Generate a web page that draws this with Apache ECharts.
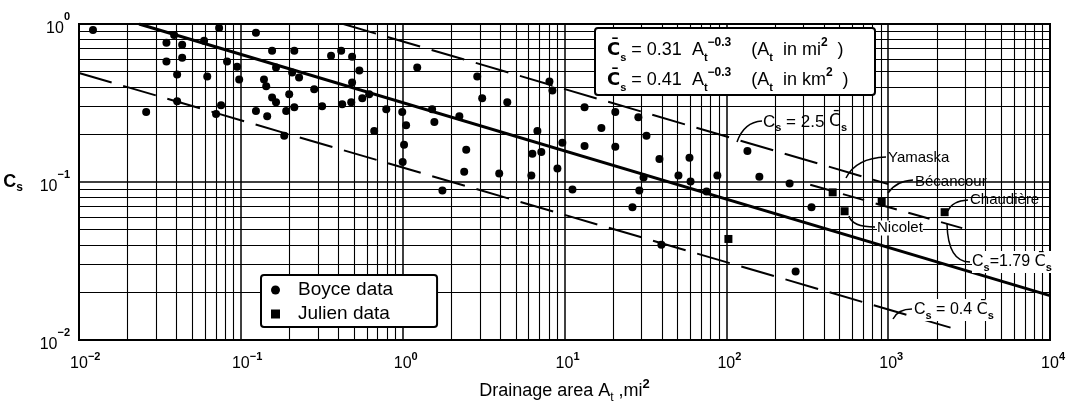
<!DOCTYPE html>
<html><head><meta charset="utf-8">
<script src="https://cdn.jsdelivr.net/npm/echarts@6/dist/echarts.min.js"></script>
<style>html,body{margin:0;padding:0;background:#fff}#c{width:1073px;height:409px}</style>
</head><body><div id="c"></div>
<script>
// ---- data ----
const xTickValues = [0.01, 0.1, 1, 10, 100, 1000, 10000];
const yTickValues = [0.01, 0.1, 1];
const boyce = [
  [0.0122,0.917],[0.0387,0.853],[0.0734,0.944],[0.0593,0.782],[0.124,0.879],[0.0347,0.76],
  [0.0434,0.738],[0.156,0.677],[0.214,0.677],[0.361,0.63],[0.417,0.677],[0.0347,0.578],
  [0.0434,0.612],[0.0822,0.578],[0.0948,0.537],[0.0404,0.479],[0.062,0.465],[0.0977,0.446],
  [0.165,0.53],[0.2075,0.493],[0.229,0.459],[0.139,0.446],[0.1435,0.403],[0.199,0.359],
  [0.284,0.386],[0.487,0.427],[0.156,0.343],[0.165,0.32],[0.0404,0.324],[0.026,0.277],
  [0.0703,0.269],[0.0755,0.306],[0.124,0.281],[0.1455,0.261],[0.1906,0.281],[0.214,0.297],
  [0.318,0.302],[0.423,0.31],[0.481,0.32],[0.1854,0.196],[0.487,0.621],[0.54,0.507],
  [1.23,0.53],[2.89,0.465],[3.1,0.339],[4.43,0.32],[8.07,0.433],[8.42,0.38],[0.563,0.339],
  [0.621,0.359],[0.792,0.289],[0.994,0.277],[1.05,0.229],[1.02,0.172],[1.0,0.134],[0.667,0.21],
  [1.52,0.289],[1.57,0.24],[2.24,0.261],[2.47,0.16],[2.4,0.116],[1.76,0.0885],[3.95,0.113],
  [6.24,0.11],[6.33,0.151],[7.19,0.155],[6.8,0.21],[9.04,0.1216],[9.7,0.177],[11.2,0.0897],
  [13.3,0.297],[13.3,0.169],[16.9,0.22],[20.6,0.277],[20.6,0.167],[28.6,0.257],[32.1,0.196],
  [38.6,0.14],[59.2,0.1425],[30.8,0.1067],[50.6,0.11],[60.1,0.1007],[29.0,0.0885],[26.3,0.0692],
  [39.7,0.04],[135,0.157],[160,0.108],[246,0.098],[88,0.11],[75.5,0.087],[336,0.0692],[268,0.0271]
];
const julien = [[454,0.086],[912,0.0755],[538,0.0653],[2233,0.0644],[103,0.0436]];
const meanLine = [[0.0235,1.0],[10000,0.0191]];
const upperLine = [[0.43,1.0],[1000,0.097]];
const julienMeanLine = [[330,0.096],[3300,0.049]];
const lowerLine = [[0.01,0.49],[2700,0.0116]];

// log grid positions (2..9 within each decade)
const minorX = [], minorY = [];
for (let k = -2; k < 4; k++) for (let m = 2; m < 10; m++) minorX.push({xAxis: +(m * Math.pow(10, k)).toPrecision(3)});
for (let k = -2; k < 0; k++) for (let m = 2; m < 10; m++) minorY.push({yAxis: +(m * Math.pow(10, k)).toPrecision(3)});

const FONT = 'Liberation Sans';
const expOf = v => String(Math.round(Math.log10(v))).replace('-', '\u2212');

function richEq() {
  return {
    c: {fontFamily: 'DejaVu Sans', fontSize: 18, lineHeight: 26, fill: '#000', fontWeight: 'bold'},
    t: {fontFamily: FONT, fontSize: 18, lineHeight: 26, fill: '#000'},
    sub: {fontFamily: FONT, fontSize: 11, lineHeight: 11, verticalAlign: 'bottom', fill: '#000', fontWeight: 'bold'},
    sup: {fontFamily: FONT, fontSize: 12, lineHeight: 12, verticalAlign: 'top', fill: '#000', fontWeight: 'bold'}
  };
}
function richAnn(fs) {
  return {
    c: {fontFamily: 'DejaVu Sans', fontSize: fs, lineHeight: 22, fill: '#000'},
    t: {fontFamily: FONT, fontSize: fs, lineHeight: 22, fill: '#000'},
    sub: {fontFamily: FONT, fontSize: 11, lineHeight: 11, verticalAlign: 'bottom', fill: '#000', fontWeight: 'bold'}
  };
}
const lead = {stroke: '#000', lineWidth: 1.5, fill: 'none'};

const chart = echarts.init(document.getElementById('c'));
chart.setOption({
  animation: false,
  backgroundColor: '#fff',
  grid: {left: 79, right: 23, top: 24, bottom: 66, show: true, borderColor: '#000', borderWidth: 2, backgroundColor: 'transparent'},
  legend: {
    data: ['Boyce data', 'Julien data'],
    orient: 'vertical', left: 261, top: 275, z: 20,
    padding: [5, 44, 3, 10], itemGap: 4,
    itemWidth: 9, itemHeight: 9,
    backgroundColor: '#fff', borderColor: '#000', borderWidth: 2, borderRadius: 3,
    textStyle: {fontFamily: FONT, fontSize: 19, color: '#000', padding: [0, 0, 0, 13], lineHeight: 20},
    selectedMode: false
  },
  xAxis: {
    type: 'log', logBase: 10, min: 0.01, max: 10000, splitNumber: 6,
    axisLine: {show: false}, axisTick: {show: false},
    splitLine: {show: true, lineStyle: {color: '#000', width: 1.5}},
    axisLabel: {
      margin: 11, color: '#000',
      formatter: v => { const e = expOf(v); return '{p|' + e + '}{b|10}{s|' + e + '}'; },
      rich: {
        b: {fontFamily: FONT, fontSize: 16, lineHeight: 26, color: '#000'},
        s: {fontFamily: FONT, fontSize: 11, lineHeight: 10, verticalAlign: 'top', color: '#000', fontWeight: 'bold'},
        p: {fontFamily: FONT, fontSize: 11, lineHeight: 10, verticalAlign: 'top', color: 'rgba(0,0,0,0)'}
      }
    },
    name: '{t|Drainage area A}{sub|t}{t| ,mi}{sup|2}',
    nameLocation: 'middle', nameGap: 38,
    nameTextStyle: {
      rich: {
        t: {fontFamily: FONT, fontSize: 18, lineHeight: 26, color: '#000'},
        sub: {fontFamily: FONT, fontSize: 12, lineHeight: 12, verticalAlign: 'bottom', color: '#000'},
        sup: {fontFamily: FONT, fontSize: 13, lineHeight: 12, verticalAlign: 'top', color: '#000', fontWeight: 'bold'}
      }
    }
  },
  yAxis: {
    type: 'log', logBase: 10, min: 0.01, max: 1, splitNumber: 2,
    axisLine: {show: false}, axisTick: {show: false},
    splitLine: {show: true, lineStyle: {color: '#000', width: 1.5}},
    axisLabel: {
      margin: 9, color: '#000',
      formatter: v => '{b|10}{s|' + expOf(v) + '}',
      rich: {
        b: {fontFamily: FONT, fontSize: 16, lineHeight: 26, color: '#000', verticalAlign: 'bottom'},
        s: {fontFamily: FONT, fontSize: 11, lineHeight: 10, verticalAlign: 'top', color: '#000', fontWeight: 'bold'}
      }
    },
    name: '{t|C}{sub|s}', nameLocation: 'middle', nameRotate: 0, nameGap: 56,
    nameTextStyle: {
      rich: {
        t: {fontFamily: FONT, fontSize: 18, lineHeight: 24, color: '#000', fontWeight: 'bold'},
        sub: {fontFamily: FONT, fontSize: 12, lineHeight: 12, verticalAlign: 'bottom', color: '#000', fontWeight: 'bold'}
      }
    }
  },
  series: [
    {
      name: 'gridlines', type: 'line', data: [[0.01, 1]], symbol: 'none', lineStyle: {opacity: 0}, silent: true, z: 1,
      markLine: {
        silent: true, symbol: ['none', 'none'], label: {show: false}, animation: false,
        lineStyle: {color: '#000', width: 1.1, type: 'solid'},
        emphasis: {disabled: true},
        data: minorX.concat(minorY)
      }
    },
    {name: 'mean', type: 'line', data: meanLine, symbol: 'none', silent: true, z: 3,
     lineStyle: {color: '#000', width: 3}},
    {name: 'upper', type: 'line', data: upperLine, symbol: 'none', silent: true, z: 3,
     lineStyle: {color: '#000', width: 2, type: [34, 12]}},
    {name: 'julienMean', type: 'line', data: julienMeanLine, symbol: 'none', silent: true, z: 3,
     lineStyle: {color: '#000', width: 2, type: [22, 12]}},
    {name: 'lower', type: 'line', data: lowerLine, symbol: 'none', silent: true, z: 3,
     lineStyle: {color: '#000', width: 2, type: [34, 12]}},
    {name: 'Boyce data', type: 'scatter', data: boyce, symbol: 'circle', symbolSize: 8, z: 4,
     itemStyle: {color: '#000', opacity: 1}},
    {name: 'Julien data', type: 'scatter', data: julien, symbol: 'rect', symbolSize: 8, z: 4,
     itemStyle: {color: '#000', opacity: 1}}
  ],
  graphic: [
    {type: 'rect', z: 100, shape: {x: 595, y: 28, width: 280, height: 67, r: 3},
     style: {fill: '#fff', stroke: '#000', lineWidth: 2}},
    {type: 'text', z: 101, x: 607, y: 50,
     style: {text: '{c|C\u0304}{sub|s}{t| = 0.31  A}{sub|t}{sup|\u22120.3}{t|    (A}{sub|t}{t|  in mi}{sup|2}{t|  )}',
       verticalAlign: 'middle', rich: richEq()}},
    {type: 'text', z: 101, x: 607, y: 80,
     style: {text: '{c|C\u0304}{sub|s}{t| = 0.41  A}{sub|t}{sup|\u22120.3}{t|    (A}{sub|t}{t|  in km}{sup|2}{t|  )}',
       verticalAlign: 'middle', rich: richEq()}},
    // annotations
    {type: 'text', z: 101, x: 763, y: 122,
     style: {text: '{t|C}{sub|s}{t| = 2.5 }{c|C\u0304}{sub|s}', verticalAlign: 'middle', rich: richAnn(17)}},
    {type: 'bezierCurve', z: 101, shape: {x1: 737, y1: 142, x2: 762, y2: 121, cpx1: 744, cpy1: 122}, style: lead},
    {type: 'text', z: 101, x: 888, y: 158, style: {text: 'Yamaska', font: '15px ' + FONT, fill: '#000', verticalAlign: 'middle'}},
    {type: 'bezierCurve', z: 101, shape: {x1: 846, y1: 178, x2: 886, y2: 157, cpx1: 856, cpy1: 158}, style: lead},
    {type: 'text', z: 101, x: 915, y: 182, style: {text: 'Bécancour', font: '15px ' + FONT, fill: '#000', verticalAlign: 'middle'}},
    {type: 'bezierCurve', z: 101, shape: {x1: 888, y1: 193, x2: 913, y2: 180, cpx1: 896, cpy1: 181}, style: lead},
    {type: 'text', z: 101, x: 970, y: 200, style: {text: 'Chaudière', font: '15px ' + FONT, fill: '#000', verticalAlign: 'middle'}},
    {type: 'bezierCurve', z: 101, shape: {x1: 948, y1: 211, x2: 968, y2: 200, cpx1: 952, cpy1: 201}, style: lead},
    {type: 'text', z: 101, x: 877, y: 228, style: {text: 'Nicolet', font: '15px ' + FONT, fill: '#000', verticalAlign: 'middle', backgroundColor: '#fff'}},
    {type: 'bezierCurve', z: 101, shape: {x1: 849, y1: 216, x2: 875, y2: 227, cpx1: 852, cpy1: 227}, style: lead},
    {type: 'text', z: 101, x: 972, y: 262,
     style: {text: '{t|C}{sub|s}{t|=1.79 }{c|C\u0304}{sub|s}', verticalAlign: 'middle', backgroundColor: '#fff', rich: richAnn(16)}},
    {type: 'bezierCurve', z: 101, shape: {x1: 947, y1: 224, x2: 970, y2: 262, cpx1: 948, cpy1: 262}, style: lead},
    {type: 'text', z: 101, x: 914, y: 310,
     style: {text: '{t|C}{sub|s}{t| = 0.4 }{c|C\u0304}{sub|s}', verticalAlign: 'middle', backgroundColor: '#fff', rich: richAnn(16)}},
    {type: 'bezierCurve', z: 101, shape: {x1: 893, y1: 319, x2: 912, y2: 309, cpx1: 898, cpy1: 309}, style: lead}
  ]
});
</script></body></html>
